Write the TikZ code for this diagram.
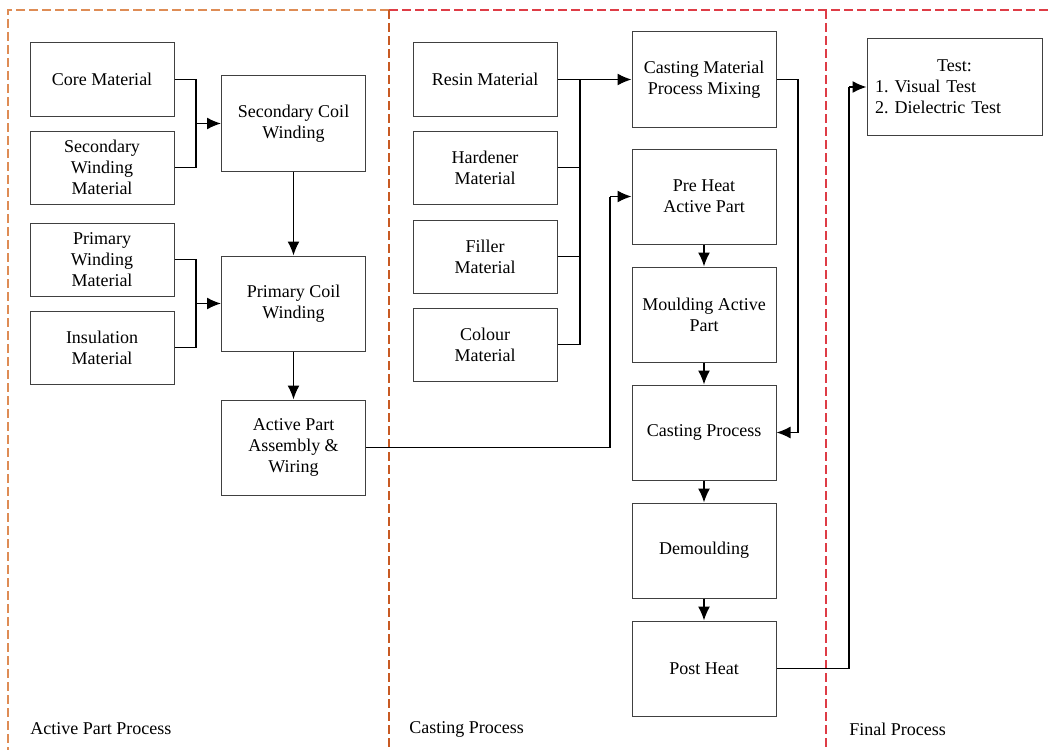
\documentclass[tikz,border=0pt]{standalone}
\usepackage{fontspec}
\setmainfont{Liberation Serif}
\usetikzlibrary{%
  arrows.meta,
  calc
}

\definecolor{boxgray}{RGB}{64,64,64}
\definecolor{actorange}{RGB}{222,140,85}
\definecolor{castorange}{RGB}{200,90,35}
\definecolor{finalred}{RGB}{222,60,70}

\tikzset{
  box/.style={draw=boxgray, line width=0.5pt, minimum width=72pt, minimum height=36.5pt,
    align=center, inner sep=2pt, font=\fontsize{9}{10.5}\selectfont},
  bigbox/.style={box, minimum height=47.5pt},
  link/.style={line width=0.7pt},
  flow/.style={line width=0.7pt, -{Latex[length=7pt,width=6pt]}},
  frame/.style={line width=0.7pt, dash pattern=on 4.5pt off 2pt},
  caption/.style={anchor=west, inner sep=0pt, font=\fontsize{9}{10.5}\selectfont}
}

\begin{document}
\frenchspacing
\begin{tikzpicture}[x=0.5pt, y=-0.5pt]
    \clip (0,0) rectangle (1052,749);

    % frames
    \draw[frame, actorange] (389,10) -- (8,10) -- (8,760);
    \draw[frame, finalred] (389,10) -- (1060,10);
    \draw[frame, castorange] (389,10) -- (389,760);
    \draw[frame, finalred] (826,10) -- (826,760);

    \node[caption] (actcap) at (30,729) {Active Part Process};
    \node[caption] (castcap) at (409,729) {Casting Process};
    \node[caption] (finalcap) at (849,729) {Final Process};

    % active part process
    \node[box] (core) at (102,79.5) {Core Material};
    \node[box] (secwm) at (102,167.5) {Secondary\\Winding\\Material};
    \node[box] (primwm) at (102,259.5) {Primary\\Winding\\Material};
    \node[box] (insul) at (102,347.5) {Insulation\\Material};

    \node[bigbox] (seccoil) at (293.5,123.5) {Secondary Coil\\Winding};
    \node[bigbox] (primcoil) at (293.5,303.5) {Primary Coil\\Winding};
    \node[bigbox] (assy) at (293.5,447.5) {Active Part\\Assembly \&\\Wiring};

    % casting process
    \node[box] (resin) at (485,79.5) {Resin Material};
    \node[box] (hardener) at (485,167.5) {Hardener\\Material};
    \node[box] (filler) at (485,256.5) {Filler\\Material};
    \node[box] (colour) at (485,344.5) {Colour\\Material};

    \node[bigbox] (mixing) at (704,79.5) {Casting Material\\Process Mixing};
    \node[bigbox] (preheat) at (704,196.5) {Pre Heat\\Active Part};
    \node[bigbox] (moulding) at (704,314.5) {Moulding Active\\Part};
    \node[bigbox] (castproc) at (704,432.5) {Casting Process};
    \node[bigbox] (demould) at (704,550.5) {Demoulding};
    \node[bigbox] (postheat) at (704,668.5) {Post Heat};

    % final process
    \node[box, minimum width=87.5pt, minimum height=48pt, text width=79.5pt, inner sep=4pt, align=left]
      (test) at (954.5,87) {\hfill Test:\hfill\null\\1.\ Visual Test\\2.\ Dielectric Test};

    % joints
    \coordinate (secjoin) at (196,123.5);
    \coordinate (primjoin) at (196,303.5);
    \coordinate (castbus) at (580,79.5);
    \coordinate (assyturn) at (610,196.5);
    \coordinate (mixturn) at (798,432.5);
    \coordinate (postturn) at (849,87);

    \draw[link] (core.east) -| (secjoin);
    \draw[link] (secwm.east) -| (secjoin);
    \draw[flow] (secjoin) -- (secjoin -| seccoil.west);

    \draw[link] (primwm.east) -| (primjoin);
    \draw[link] (insul.east) -| (primjoin);
    \draw[flow] (primjoin) -- (primjoin -| primcoil.west);

    \draw[flow] (seccoil) -- (primcoil);
    \draw[flow] (primcoil) -- (assy);

    \draw[flow] (resin.east) -- (mixing.west);
    \draw[link] (colour.east) -| (castbus);
    \draw[link] (hardener.east) -- (hardener.east -| castbus);
    \draw[link] (filler.east) -- (filler.east -| castbus);

    \draw[link] (assy.east) -| (assyturn);
    \draw[flow] (assyturn) -- (preheat.west);

    \draw[link] (mixing.east) -| (mixturn);
    \draw[flow] (mixturn) -- (castproc.east);

    \draw[flow] (preheat) -- (moulding);
    \draw[flow] (moulding) -- (castproc);
    \draw[flow] (castproc) -- (demould);
    \draw[flow] (demould) -- (postheat);

    \draw[link] (postheat.east) -| (postturn);
    \draw[flow] (postturn) -- (postturn -| test.west);

\end{tikzpicture}
\end{document}
